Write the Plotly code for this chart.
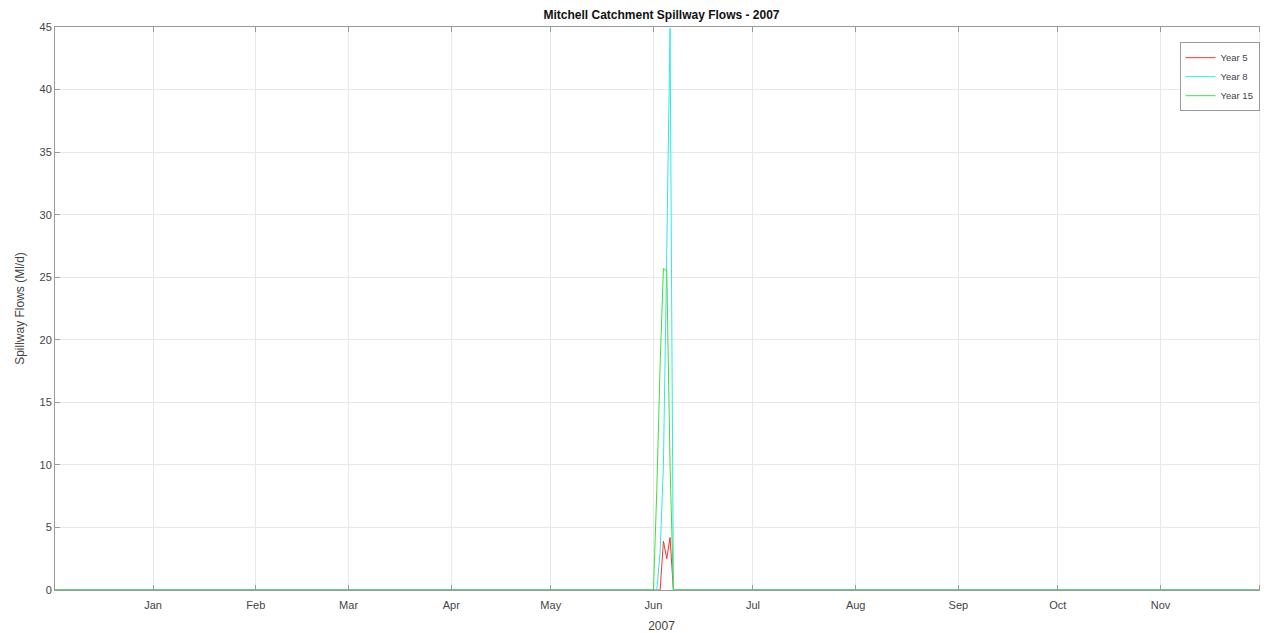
import plotly.graph_objects as go

# Data
dates = ["2006-12-02 10:00", "2007-06-01", "2007-06-02", "2007-06-03", "2007-06-04",
         "2007-06-05", "2007-06-06", "2007-06-07", "2007-12-03 10:00"]
year5 = [0, 0, 0, 0, 3.9, 2.5, 4.2, 0, 0]
year8 = [0, 0, 0, 3, 10, 27, 44.9, 0, 0]
year15 = [0, 0, 8, 18, 25.7, 25.5, 10, 0, 0]

month_ticks = ["2007-01-01", "2007-02-01", "2007-03-01", "2007-04-01", "2007-05-01",
               "2007-06-01", "2007-07-01", "2007-08-01", "2007-09-01", "2007-10-01",
               "2007-11-01", "2007-12-01"]
month_labels = ["Jan", "Feb", "Mar", "Apr", "May", "Jun", "Jul", "Aug", "Sep", "Oct", "Nov", "Dec"]
y_ticks = [0, 5, 10, 15, 20, 25, 30, 35, 40, 45]

font_family = "Liberation Sans, Arial, sans-serif"

fig = go.Figure()
fig.add_trace(go.Scatter(x=dates, y=year5, mode="lines", name="Year 5",
                         line=dict(color="#ff3030", width=1)))
fig.add_trace(go.Scatter(x=dates, y=year8, mode="lines", name="Year 8",
                         line=dict(color="#30e8e8", width=1)))
fig.add_trace(go.Scatter(x=dates, y=year15, mode="lines", name="Year 15",
                         line=dict(color="#40dd40", width=1)))

axis_common = dict(
    showgrid=True, gridcolor="#e8e8e8", gridwidth=1,
    showline=True, linecolor="#9a9a9a", linewidth=1, mirror="ticks",
    ticks="inside", ticklen=5, tickcolor="#9a9a9a",
    tickfont=dict(family=font_family, size=11, color="#444444"),
    zeroline=False, layer="below traces", automargin=False,
)

# The page body has an 8px margin, so the figure is offset by 8px.
fig.update_layout(
    width=1260, height=625, autosize=False,
    margin=dict(l=47, r=0, t=19, b=43),
    paper_bgcolor="white", plot_bgcolor="white",
    font=dict(family=font_family, size=11, color="#444444"),
    title=dict(text="<b>Mitchell Catchment Spillway Flows - 2007</b>",
               x=0.5, xref="paper", xanchor="center",
               y=1 - 3 / 625, yref="container", yanchor="top",
               font=dict(family=font_family, size=12, color="#111111")),
    xaxis=dict(range=["2006-12-02 10:00", "2007-12-03 10:00"],
               tickvals=month_ticks, ticktext=month_labels,
               ticklabelstandoff=5,
               title=dict(text="2007", standoff=11,
                          font=dict(family=font_family, size=12, color="#444444")),
               **axis_common),
    yaxis=dict(range=[0, 45], tickvals=y_ticks,
               title=dict(text="Spillway Flows (Ml/d)", standoff=12,
                          font=dict(family=font_family, size=12, color="#444444")),
               **axis_common),
    legend=dict(x=0.993, xanchor="right", y=0.973, yanchor="top",
                bgcolor="white", bordercolor="#9a9a9a", borderwidth=1,
                font=dict(family=font_family, size=9.5, color="#444444"),
                tracegroupgap=0, itemwidth=30),
    showlegend=True,
)

fig.write_html("out.html")
